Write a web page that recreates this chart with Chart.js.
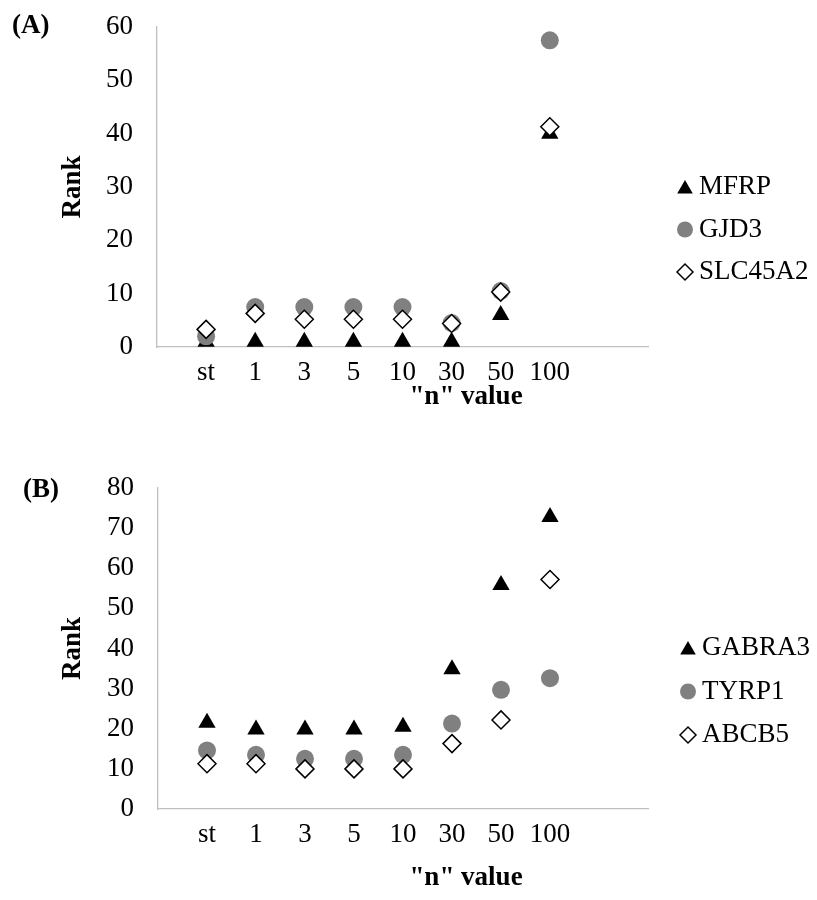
<!DOCTYPE html>
<html>
<head>
<meta charset="utf-8">
<script src="https://cdn.jsdelivr.net/npm/chart.js@4.4.1/dist/chart.umd.min.js"></script>
<style>
  body { margin: 0; background: #fff; }
  canvas { display: block; }
</style>
</head>
<body>
<canvas id="chartA" width="817" height="440"></canvas>
<canvas id="chartB" width="817" height="460"></canvas>
<script>
// tick labels on the x axis (placed at x = 1..8)
const xLabels = ['st', '1', '3', '5', '10', '30', '50', '100'];

// panel (A)
const mfrp = [1, 1, 1, 1, 1, 1, 6, 40];
const gjd3 = [2, 7.5, 7.5, 7.5, 7.5, 4.5, 10.5, 57.5];
const slc45a2 = [3.3, 6.3, 5.2, 5.2, 5.2, 4.4, 10.3, 41.3];

// panel (B)
const gabra3 = [21.5, 19.8, 19.8, 19.8, 20.5, 34.8, 55.8, 72.8];
const tyrp1 = [14.6, 13.5, 12.5, 12.5, 13.5, 21.3, 29.7, 32.6];
const abcb5 = [11.3, 11.3, 10, 10, 10, 16.3, 22.2, 57.2];

const FONT = '"Liberation Serif", "Times New Roman", serif';

function points(values) {
    return values.map((v, i) => ({ x: i + 1, y: v }));
}

function triangleSet(label, values) {
    return { label, data: points(values), pointStyle: 'triangle', pointRadius: 10, pointHoverRadius: 10,
             backgroundColor: '#000', borderColor: '#000', borderWidth: 0, order: 2 };
}
function circleSet(label, values) {
    return { label, data: points(values), pointStyle: 'circle', pointRadius: 9, pointHoverRadius: 9,
             backgroundColor: '#808080', borderColor: '#808080', borderWidth: 0, order: 1 };
}
function diamondSet(label, values) {
    return { label, data: points(values), pointStyle: 'rectRot', pointRadius: 9, pointHoverRadius: 9,
             backgroundColor: '#fff', borderColor: '#000', borderWidth: 1.5, order: 0 };
}

// panel tag, x title and the legend on the right
const panelText = {
    id: 'panelText',
    afterDraw(chart, args, opts) {
        const ctx = chart.ctx;
        ctx.save();
        ctx.fillStyle = '#000';
        ctx.textBaseline = 'middle';
        ctx.textAlign = 'left';
        ctx.font = 'bold 27px ' + FONT;
        ctx.fillText(opts.tag, opts.tagX, opts.tagY);
        ctx.textAlign = 'center';
        ctx.fillText('"n" value', opts.titleX, opts.titleY);
        ctx.textAlign = 'left';
        ctx.font = '27px ' + FONT;
        chart.data.datasets.forEach((ds, i) => {
            const y = opts.legendY + i * opts.legendGap;
            const tri = ds.pointStyle === 'triangle';
            ctx.fillStyle = ds.backgroundColor;
            ctx.strokeStyle = ds.borderColor;
            ctx.lineWidth = ds.borderWidth;
            Chart.helpers.drawPoint(ctx, { pointStyle: ds.pointStyle, radius: tri ? 9 : 8, rotation: 0, borderWidth: ds.borderWidth },
                opts.legendX, y + (tri ? 2 : 0));
            ctx.fillStyle = '#000';
            ctx.fillText(ds.label, opts.legendX + 14, y);
        });
        ctx.restore();
    }
};

function makeChart(id, datasets, yMax, area, text) {
    const canvas = document.getElementById(id);
    return new Chart(canvas, {
        type: 'scatter',
        data: { datasets },
        plugins: [panelText],
        options: {
            responsive: false,
            animation: false,
            layout: { padding: { left: 0, right: canvas.width - area.right, top: area.top, bottom: 0 } },
            plugins: {
                legend: { display: false },
                tooltip: { enabled: false },
                panelText: text
            },
            scales: {
                x: {
                    type: 'linear', min: 0, max: 10,
                    grid: { display: false, drawTicks: true, tickLength: 8 },
                    border: { display: true, color: '#bfbfbf', width: 1.3 },
                    ticks: {
                        stepSize: 1, autoSkip: false, maxRotation: 0, padding: 2,
                        color: '#000', font: { family: FONT, size: 27 },
                        callback: v => xLabels[v - 1] || ''
                    },
                    afterFit: s => { s.height = canvas.height - area.bottom; }
                },
                y: {
                    min: 0, max: yMax,
                    grid: { display: false, drawTicks: true, tickLength: 21 },
                    border: { display: true, color: '#bfbfbf', width: 1.3 },
                    ticks: { stepSize: 10, padding: 3, color: '#000', font: { family: FONT, size: 27 } },
                    title: { display: true, text: 'Rank', color: '#000', padding: { top: 57, bottom: 0 },
                             font: { family: FONT, size: 27, weight: 'bold' } },
                    afterFit: s => { s.width = area.left; }
                }
            }
        }
    });
}

makeChart('chartA',
    [triangleSet('MFRP', mfrp), circleSet('GJD3', gjd3), diamondSet('SLC45A2', slc45a2)],
    60, { left: 157, right: 648, top: 27, bottom: 347 },
    { tag: '(A)', tagX: 12, tagY: 26, titleX: 466, titleY: 397, legendX: 685, legendY: 187, legendGap: 42.5 });

makeChart('chartB',
    [triangleSet('GABRA3', gabra3), circleSet('TYRP1', tyrp1), diamondSet('ABCB5', abcb5)],
    80, { left: 158, right: 648, top: 48, bottom: 369 },
    { tag: '(B)', tagX: 23, tagY: 50, titleX: 466, titleY: 438, legendX: 688, legendY: 208, legendGap: 43.5 });
</script>
</body>
</html>
